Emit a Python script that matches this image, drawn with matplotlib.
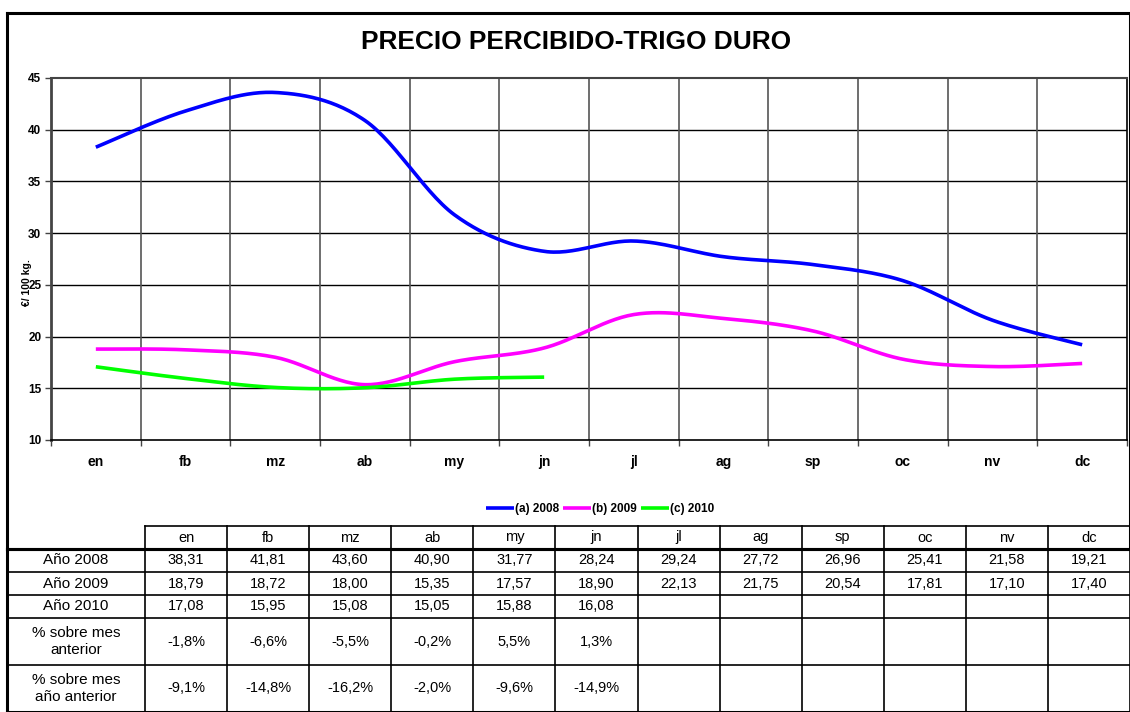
import numpy as np
import matplotlib
matplotlib.use("Agg")
import matplotlib.pyplot as plt

plt.rcParams['font.family'] = ['Liberation Sans', 'DejaVu Sans']

months = ["en", "fb", "mz", "ab", "my", "jn", "jl", "ag", "sp", "oc", "nv", "dc"]
v2008 = [38.31, 41.81, 43.60, 40.90, 31.77, 28.24, 29.24, 27.72, 26.96, 25.41, 21.58, 19.21]
v2009 = [18.79, 18.72, 18.00, 15.35, 17.57, 18.90, 22.13, 21.75, 20.54, 17.81, 17.10, 17.40]
v2010 = [17.08, 15.95, 15.08, 15.05, 15.88, 16.08]
pct_prev_month = ["-1,8%", "-6,6%", "-5,5%", "-0,2%", "5,5%", "1,3%"]
pct_prev_year = ["-9,1%", "-14,8%", "-16,2%", "-2,0%", "-9,6%", "-14,9%"]
series_labels = ["(a) 2008", "(b) 2009", "(c) 2010"]
row_labels = ["Año 2008", "Año 2009", "Año 2010", "% sobre mes\nanterior", "% sobre mes\naño anterior"]
title = "PRECIO PERCIBIDO-TRIGO DURO"
ylabel = "€/ 100 kg."
yticks = [10, 15, 20, 25, 30, 35, 40, 45]


def smooth(y, n=30):
    """Excel-like smoothed line (Catmull-Rom / Bezier)."""
    y = np.asarray(y, float)
    x = np.arange(len(y), dtype=float)
    px = np.concatenate([[x[0]], x, [x[-1]]])
    py = np.concatenate([[y[0]], y, [y[-1]]])
    xs, ys = [], []
    t = np.linspace(0, 1, n)
    for i in range(len(y) - 1):
        p0 = np.array([px[i], py[i]]); p1 = np.array([px[i + 1], py[i + 1]])
        p2 = np.array([px[i + 2], py[i + 2]]); p3 = np.array([px[i + 3], py[i + 3]])
        c1 = p1 + (p2 - p0) / 6.0
        c2 = p2 - (p3 - p1) / 6.0
        b = ((1 - t) ** 3)[:, None] * p1 + (3 * (1 - t) ** 2 * t)[:, None] * c1 + \
            (3 * (1 - t) * t ** 2)[:, None] * c2 + (t ** 3)[:, None] * p2
        xs.append(b[:, 0]); ys.append(b[:, 1])
    return np.concatenate(xs), np.concatenate(ys)


W, H = 1130, 712
fig = plt.figure(figsize=(W / 100, H / 100), dpi=100)

# overlay axes in pixel coordinates for frame + table
ov = fig.add_axes([0, 0, 1, 1])
ov.set_xlim(0, W)
ov.set_ylim(H, 0)
ov.axis('off')

# main plot axes
pl, pr, pt, pb = 51, 1127, 78, 440
ax = fig.add_axes([pl / W, (H - pb) / H, (pr - pl) / W, (pb - pt) / H])
ax.set_xlim(-0.5, 11.5)
ax.set_ylim(10, 45)
ax.set_yticks(yticks)
ax.set_yticklabels([str(t) for t in yticks], fontsize=8.5, fontweight='bold')
ax.set_xticks(np.arange(-0.5, 12, 1))
ax.set_xticklabels([])
ax.tick_params(axis='x', length=4, color='#444444', width=1)
ax.tick_params(axis='y', length=4, color='#444444', width=1, pad=3)
for yv in yticks[1:-1]:
    ax.axhline(yv, color='black', lw=1, zorder=1)
for xv in np.arange(0.5, 11.5, 1):
    ax.axvline(xv, color='#555555', lw=1.2, zorder=1)
ax.spines['left'].set_color('#444444'); ax.spines['left'].set_linewidth(2)
ax.spines['top'].set_color('#444444'); ax.spines['top'].set_linewidth(1.5)
ax.spines['right'].set_color('black'); ax.spines['right'].set_linewidth(1.2)
ax.spines['bottom'].set_color('black'); ax.spines['bottom'].set_linewidth(1.2)

colors = ['#0000FF', '#FF00FF', '#00FF00']
lines = []
for vals, c, lab in zip([v2008, v2009, v2010], colors, series_labels):
    sx, sy = smooth(vals)
    ln, = ax.plot(sx, sy, color=c, lw=2.6, label=lab, zorder=3, solid_capstyle='butt')
    lines.append(ln)

# month labels under plot
for i, m in enumerate(months):
    ax.text(i, -0.062, m, transform=ax.get_xaxis_transform(), ha='center', va='center',
            fontsize=10, fontweight='bold')

fig.text(27 / W, 1 - 283 / H, ylabel, rotation=90, ha='center', va='center',
         fontsize=7.5, fontweight='bold')
fig.text(576 / W, 1 - 42 / H, title, ha='center', va='center', fontsize=18.9, fontweight='bold')

leg = fig.legend(handles=lines, loc='center', bbox_to_anchor=(600 / W, 1 - 509 / H), ncol=3,
                 frameon=False, prop={'weight': 'bold', 'size': 8.5}, handlelength=2.4,
                 handletextpad=0.1, columnspacing=0.3)

# chart frame
fx0, fy0, fy1 = 7, 13, 549
ov.plot([fx0, W, W, fx0, fx0], [fy0, fy0, fy1, fy1, fy0], color='black', lw=2.2,
        solid_joinstyle='miter', clip_on=False)

# table
cx0, cx1, c0 = 7, 1130, 145
colw = (cx1 - c0) / 12
rows_y = [526, 549, 572, 595, 618, 665, 712]
lw_t = 1.2
ov.plot([c0, cx1], [rows_y[0], rows_y[0]], color='black', lw=lw_t)
for j in range(13):
    xx = c0 + j * colw
    ov.plot([xx, xx], [rows_y[0], rows_y[-1]], color='black', lw=lw_t)
ov.plot([cx0, cx0], [rows_y[1], rows_y[-1]], color='black', lw=2.2)
for k, yy in enumerate(rows_y[1:]):
    ov.plot([cx0, cx1], [yy, yy], color='black', lw=2.2 if k == 0 or k == len(rows_y) - 2 else lw_t)
for j, m in enumerate(months):
    ov.text(c0 + (j + 0.5) * colw, (rows_y[0] + rows_y[1]) / 2, m, ha='center', va='center', fontsize=10.5)
data_rows = [
    [f"{v:.2f}".replace('.', ',') for v in v2008],
    [f"{v:.2f}".replace('.', ',') for v in v2009],
    [f"{v:.2f}".replace('.', ',') for v in v2010],
    pct_prev_month,
    pct_prev_year,
]
for r, (lab, vals) in enumerate(zip(row_labels, data_rows)):
    yc = (rows_y[r + 1] + rows_y[r + 2]) / 2
    ov.text((cx0 + c0) / 2, yc, lab, ha='center', va='center', fontsize=11, linespacing=1.35)
    for j, s in enumerate(vals):
        ov.text(c0 + (j + 0.5) * colw, yc, s, ha='center', va='center', fontsize=10.5)

fig.savefig('out.png', dpi=100)
